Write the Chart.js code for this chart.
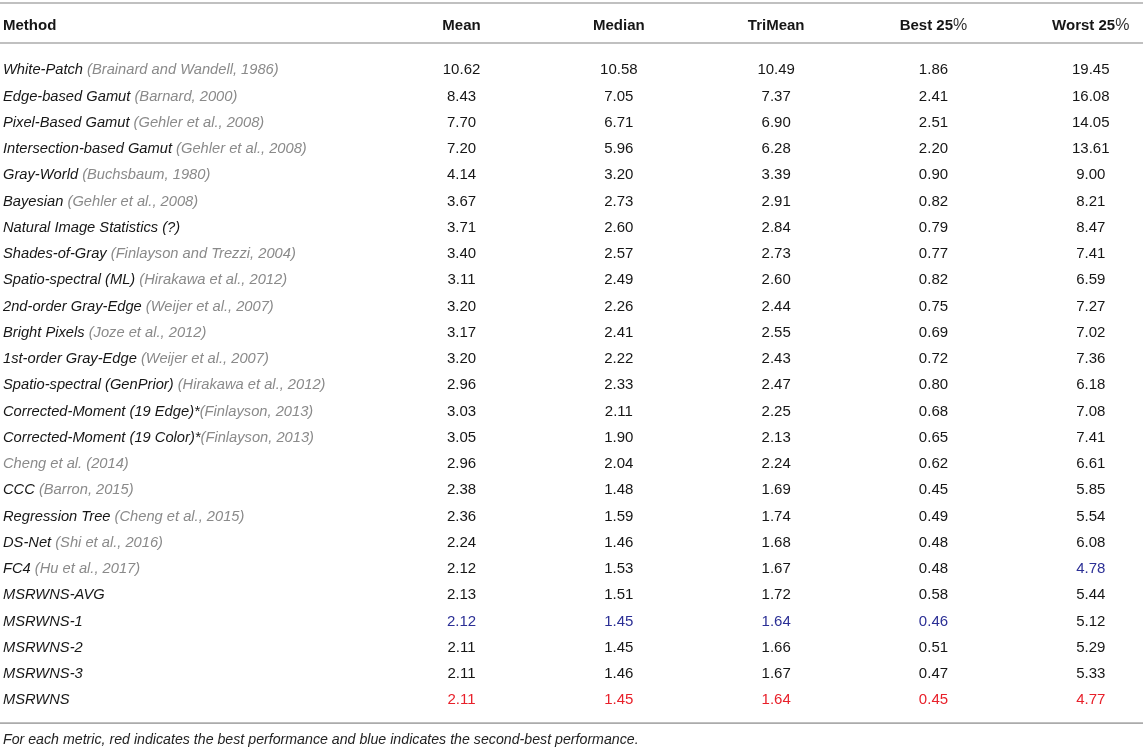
<!DOCTYPE html>
<html><head><meta charset="utf-8">
<script src="https://cdn.jsdelivr.net/npm/chart.js@4.4.0/dist/chart.umd.min.js"></script>
<style>html,body{margin:0;padding:0;background:#fff;}canvas{display:block;}</style>
</head><body>
<canvas id="c" width="1143" height="749"></canvas>
<script>
const methodNames = [
  'White-Patch','Edge-based Gamut','Pixel-Based Gamut','Intersection-based Gamut','Gray-World',
  'Bayesian','Natural Image Statistics (?)','Shades-of-Gray','Spatio-spectral (ML)','2nd-order Gray-Edge',
  'Bright Pixels','1st-order Gray-Edge','Spatio-spectral (GenPrior)','Corrected-Moment (19 Edge)*','Corrected-Moment (19 Color)*',
  '','CCC','Regression Tree','DS-Net','FC4',
  'MSRWNS-AVG','MSRWNS-1','MSRWNS-2','MSRWNS-3','MSRWNS'
];
const methodCites = [
  '(Brainard and Wandell, 1986)','(Barnard, 2000)','(Gehler et al., 2008)','(Gehler et al., 2008)','(Buchsbaum, 1980)',
  '(Gehler et al., 2008)','','(Finlayson and Trezzi, 2004)','(Hirakawa et al., 2012)','(Weijer et al., 2007)',
  '(Joze et al., 2012)','(Weijer et al., 2007)','(Hirakawa et al., 2012)','(Finlayson, 2013)','(Finlayson, 2013)',
  'Cheng et al. (2014)','(Barron, 2015)','(Cheng et al., 2015)','(Shi et al., 2016)','(Hu et al., 2017)',
  '','','','',''
];
const methodHeader = 'Method';
const metrics = ['Mean','Median','TriMean','Best 25%','Worst 25%'];
const meanVals    = [10.62,8.43,7.70,7.20,4.14,3.67,3.71,3.40,3.11,3.20,3.17,3.20,2.96,3.03,3.05,2.96,2.38,2.36,2.24,2.12,2.13,2.12,2.11,2.11,2.11];
const medianVals  = [10.58,7.05,6.71,5.96,3.20,2.73,2.60,2.57,2.49,2.26,2.41,2.22,2.33,2.11,1.90,2.04,1.48,1.59,1.46,1.53,1.51,1.45,1.45,1.46,1.45];
const trimeanVals = [10.49,7.37,6.90,6.28,3.39,2.91,2.84,2.73,2.60,2.44,2.55,2.43,2.47,2.25,2.13,2.24,1.69,1.74,1.68,1.67,1.72,1.64,1.66,1.67,1.64];
const best25Vals  = [1.86,2.41,2.51,2.20,0.90,0.82,0.79,0.77,0.82,0.75,0.69,0.72,0.80,0.68,0.65,0.62,0.45,0.49,0.48,0.48,0.58,0.46,0.51,0.47,0.45];
const worst25Vals = [19.45,16.08,14.05,13.61,9.00,8.21,8.47,7.41,6.59,7.27,7.02,7.36,6.18,7.08,7.41,6.61,5.85,5.54,6.08,4.78,5.44,5.12,5.29,5.33,4.77];
const bestRow   = [24,24,24,24,24];
const secondRow = [21,21,21,21,19];
const footnote = 'For each metric, red indicates the best performance and blue indicates the second-best performance.';

const seriesVals = [meanVals, medianVals, trimeanVals, best25Vals, worst25Vals];
const FONT = '"Liberation Sans", Arial, Helvetica, sans-serif';
const RED = '#e8202a', BLUE = '#2b2f95', TEXT = '#161616', GREY = '#8a8a8a', RULE = '#ababab';

const datasets = seriesVals.map((vals, c) => ({
  label: metrics[c],
  data: vals.map((v, i) => ({x: c + 1, y: i + 1, v: v})),
  pointRadius: 0, pointHoverRadius: 0, borderWidth: 0
}));

const tablePlugin = {
  id: 'tableText',
  afterDatasetsDraw(chart) {
    const ctx = chart.ctx, xs = chart.scales.x, ys = chart.scales.y;
    const L = chart.chartArea.left, R = chart.chartArea.right;
    ctx.save();
    // rules
    ctx.strokeStyle = RULE; ctx.lineWidth = 1.6;
    [-1.562, -0.038, 25.867].forEach(v => {
      const y = ys.getPixelForValue(v);
      ctx.beginPath(); ctx.moveTo(L, y); ctx.lineTo(R, y); ctx.stroke();
    });
    ctx.textBaseline = 'middle';
    // header
    const hy = ys.getPixelForValue(-0.701);
    ctx.fillStyle = TEXT;
    ctx.font = 'bold 15px ' + FONT;
    ctx.textAlign = 'left';
    ctx.fillText(methodHeader, L + 3, hy);
    metrics.forEach((m, c) => {
      const cx = xs.getPixelForValue(c + 1);
      const pct = m.endsWith('%');
      const main = pct ? m.slice(0, -1) : m;
      ctx.font = 'bold 15px ' + FONT;
      const w1 = ctx.measureText(main).width;
      ctx.font = '300 16px ' + FONT;
      const w2 = pct ? ctx.measureText('%').width : 0;
      const x0 = cx - (w1 + w2) / 2;
      ctx.textAlign = 'left';
      ctx.font = 'bold 15px ' + FONT;
      ctx.fillText(main, x0, hy);
      if (pct) { ctx.font = '300 16px ' + FONT; ctx.fillStyle = '#333'; ctx.fillText('%', x0 + w1, hy); ctx.fillStyle = TEXT; }
    });
    // method names
    ctx.font = 'italic 14.7px ' + FONT;
    methodNames.forEach((n, i) => {
      const y = ys.getPixelForValue(i + 1);
      let x = L + 3;
      ctx.fillStyle = TEXT;
      ctx.fillText(n, x, y);
      x += ctx.measureText(n).width;
      if (n && methodCites[i] && !n.endsWith('*')) x += ctx.measureText(' ').width;
      ctx.fillStyle = GREY;
      ctx.fillText(methodCites[i], x, y);
    });
    // values
    ctx.font = '15px ' + FONT;
    ctx.textAlign = 'center';
    chart.data.datasets.forEach((ds, c) => {
      const meta = chart.getDatasetMeta(c);
      meta.data.forEach((pt, i) => {
        ctx.fillStyle = i === bestRow[c] ? RED : (i === secondRow[c] ? BLUE : TEXT);
        ctx.fillText(ds.data[i].v.toFixed(2), pt.x, pt.y);
      });
    });
    // footnote
    ctx.textAlign = 'left';
    ctx.fillStyle = '#222';
    ctx.font = 'italic 14.2px ' + FONT;
    ctx.fillText(footnote, L + 3, ys.getPixelForValue(26.495));
    ctx.restore();
  }
};

new Chart(document.getElementById('c'), {
  type: 'scatter',
  data: { datasets: datasets },
  options: {
    responsive: false, animation: false, devicePixelRatio: 1,
    layout: { padding: 0, autoPadding: false },
    plugins: { legend: { display: false }, tooltip: { enabled: false } },
    events: [],
    scales: {
      x: { type: 'linear', display: false, min: -1.934, max: 5.332 },
      y: { type: 'linear', display: false, reverse: true, min: -1.676, max: 26.854 }
    }
  },
  plugins: [tablePlugin]
});
</script>
</body></html>
